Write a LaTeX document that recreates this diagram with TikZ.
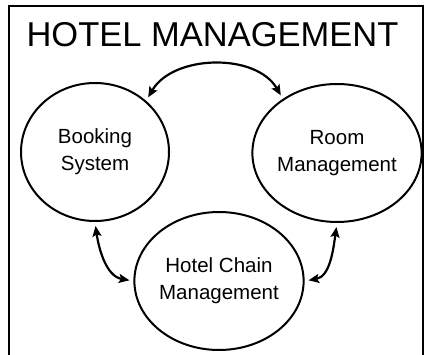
\documentclass[tikz,border=0pt]{standalone}
\usepackage{fontspec}
\setmainfont{Liberation Sans}
\usetikzlibrary{shapes.geometric,arrows.meta}
\begin{document}
\begin{tikzpicture}[x=1pt,y=-1pt,
  proc/.style={ellipse,draw=black,line width=2pt,minimum width=148pt,minimum height=138pt,inner sep=0pt,align=center,font=\fontsize{20.5pt}{27pt}\selectfont,text=black},
  link/.style={line width=2.2pt,{Stealth[length=10.5pt,width=9pt,inset=2pt]}-{Stealth[length=10.5pt,width=9pt,inset=2pt]},shorten <=4pt,shorten >=4pt}
]
\useasboundingbox (0,0) rectangle (426,355);
\draw[line width=2pt,black] (9,356) -- (9,6) -- (423,6) -- (423,356);
\node[anchor=base,font=\fontsize{34.5pt}{40pt}\selectfont,text=black] (title) at (212.5,47) {HOTEL MANAGEMENT};
\node[proc] (book) at (95,152) {Booking\\System};
\node[proc] (room) at (337,153) {Room\\Management};
\node[proc] (hc) at (219,281) {Hotel Chain\\Management};
\draw[link] (book.45) to[out=60,in=120] (room.135);
\draw[link] (book.270) to[out=-82,in=170] (hc.180);
\draw[link] (room.270) to[out=-98,in=10] (hc.0);
\end{tikzpicture}
\end{document}
